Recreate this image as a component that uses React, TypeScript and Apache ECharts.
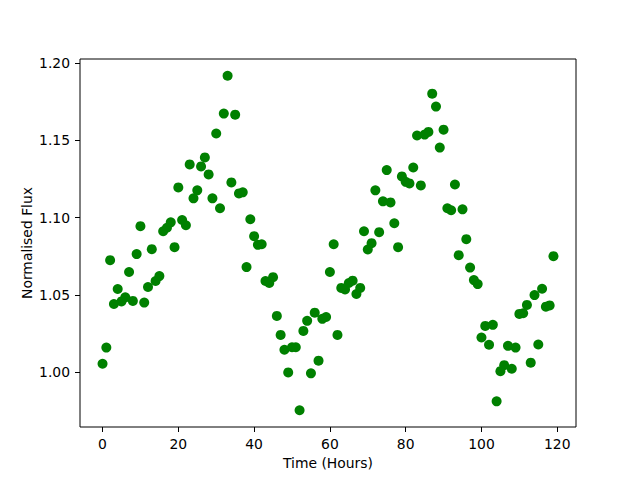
import React, { useEffect, useRef } from "react";
import * as echarts from "echarts";

const hours: number[] = Array.from({ length: 120 }, (_, i) => i);

const flux: number[] = [
  1.0054, 1.0159, 1.0725, 1.0441, 1.0538, 1.0458, 1.0484, 1.0648, 1.0461, 1.0764,
  1.0945, 1.045, 1.0551, 1.0796, 1.059, 1.0622, 1.0912, 1.0935, 1.097, 1.0809,
  1.1196, 1.0985, 1.0951, 1.1345, 1.1125, 1.1177, 1.1332, 1.139, 1.128, 1.1125,
  1.1545, 1.1061, 1.1674, 1.1919, 1.1228, 1.1667, 1.1157, 1.1164, 1.068, 1.099,
  1.088, 1.0824, 1.0828, 1.059, 1.0577, 1.0615, 1.0364, 1.0241, 1.0145, 0.9998,
  1.0161, 1.0161, 0.9753, 1.0267, 1.0332, 0.9992, 1.0385, 1.0074, 1.0345, 1.0357,
  1.0648, 1.0828, 1.0241, 1.0545, 1.0535, 1.0577, 1.0592, 1.0506, 1.0545, 1.0912,
  1.0794, 1.0835, 1.1177, 1.0906, 1.1106, 1.1308, 1.1099, 1.0964, 1.0809, 1.1267,
  1.1232, 1.1222, 1.1325, 1.1532, 1.1209, 1.1538, 1.1555, 1.1803, 1.1719, 1.1454,
  1.157, 1.1061, 1.1048, 1.1215, 1.0757, 1.1054, 1.0861, 1.0677, 1.0596, 1.057,
  1.0224, 1.0299, 1.0177, 1.0306, 0.9811, 1.0006, 1.0045, 1.017, 1.0022, 1.0159,
  1.0377, 1.0381, 1.0435, 1.0061, 1.0499, 1.0179, 1.054, 1.0424, 1.0432, 1.0751,
];

const xTicks: number[] = [0, 20, 40, 60, 80, 100, 120];
const yTicks: number[] = [1.0, 1.05, 1.1, 1.15, 1.2];

const xLabel = "Time (Hours)";
const yLabel = "Normalised Flux";

export default function App() {
  const ref = useRef<HTMLDivElement>(null);
  useEffect(() => {
    if (!ref.current) return;
    const chart = echarts.init(ref.current, undefined, { renderer: "svg" });
    const xMin = Math.min(...hours), xMax = Math.max(...hours);
    const yMin = Math.min(...flux), yMax = Math.max(...flux);
    const xPad = (xMax - xMin) * 0.05, yPad = (yMax - yMin) * 0.05;
    const font = "DejaVu Sans";
    chart.setOption({
      animation: false,
      backgroundColor: "#ffffff",
      textStyle: { fontFamily: font },
      grid: {
        left: 80,
        right: 64,
        top: 59,
        bottom: 53,
        show: true,
        borderColor: "#000000",
        borderWidth: 1,
        backgroundColor: "transparent",
      },
      xAxis: {
        type: "value",
        min: xMin - xPad,
        max: xMax + xPad,
        name: xLabel,
        nameLocation: "middle",
        nameGap: 29,
        nameMoveOverlap: false,
        nameTextStyle: { color: "#000", fontSize: 13.9, fontFamily: font },
        splitLine: { show: false },
        axisLine: { show: false, onZero: false },
        axisTick: {
          show: true,
          length: 5,
          lineStyle: { color: "#000", width: 1 },
          customValues: xTicks,
        },
        axisLabel: {
          color: "#000",
          fontSize: 13.9,
          fontFamily: font,
          margin: 10,
          customValues: xTicks,
          formatter: (v: number) => String(Math.round(v)),
        },
      },
      yAxis: {
        type: "value",
        min: yMin - yPad,
        max: yMax + yPad,
        name: yLabel,
        nameLocation: "middle",
        nameGap: 46,
        nameMoveOverlap: false,
        nameRotate: 90,
        nameTextStyle: { color: "#000", fontSize: 13.9, fontFamily: font },
        splitLine: { show: false },
        axisLine: { show: false, onZero: false },
        axisTick: {
          show: true,
          length: 5,
          lineStyle: { color: "#000", width: 1 },
          customValues: yTicks,
        },
        axisLabel: {
          color: "#000",
          fontSize: 13.9,
          fontFamily: font,
          margin: 10,
          customValues: yTicks,
          formatter: (v: number) => v.toFixed(2),
        },
      },
      series: [
        {
          type: "scatter",
          data: hours.map((h, i) => [h, flux[i]]),
          symbol: "circle",
          symbolSize: 10,
          itemStyle: { color: "#008000", opacity: 1 },
        },
      ],
    });
    return () => chart.dispose();
  }, []);
  return <div ref={ref} style={{ width: 640, height: 480, position: "absolute", left: 0, top: 0 }} />;
}
